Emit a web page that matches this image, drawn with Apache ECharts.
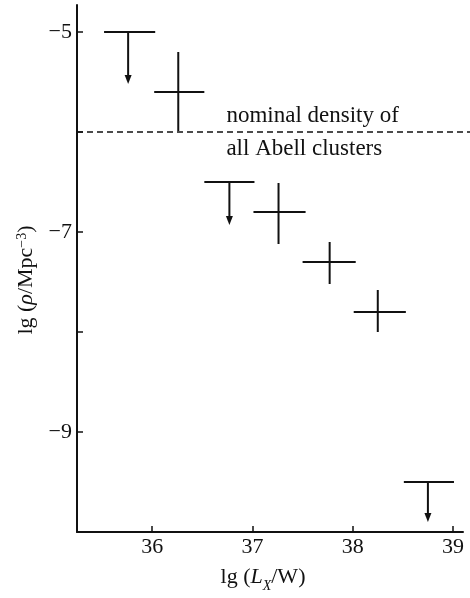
<!DOCTYPE html>
<html><head><meta charset="utf-8">
<script src="https://cdn.jsdelivr.net/npm/echarts@6/dist/echarts.min.js"></script>
<style>html,body{margin:0;padding:0;background:#fff}#c{width:470px;height:598px}</style>
</head><body><div id="c"></div>
<script>
// Upper limits (horizontal bar + downward arrow)
const limXLo = [35.52, 36.52, 38.51];
const limXHi = [36.03, 37.02, 39.01];
const limX   = [35.76, 36.77, 38.75];
const limY   = [-5.0, -6.5, -9.5];
const limTip = [-5.52, -6.93, -9.9];
// Measurements (cross: x range + y error bar)
const msXLo = [36.02, 37.01, 37.50, 38.01];
const msXHi = [36.52, 37.53, 38.03, 38.53];
const msX   = [36.26, 37.26, 37.77, 38.25];
const msY   = [-5.6, -6.8, -7.3, -7.8];
const msYLo = [-5.99, -7.12, -7.52, -8.0];
const msYHi = [-5.2, -6.51, -7.1, -7.58];
// Reference line
const nominalDensity = -6;
const nominalText = ['nominal density of', 'all Abell clusters'];
// Axes
const xMin = 35.25, xMax = 39.1;
const yMin = -10, yMax = -4.73;
const xTicks = [36, 37, 38, 39];
const yTicks = [-9, -8, -7, -6, -5];
const yLabels = [-9, -7, -5];

const FONT = "'Liberation Serif', 'DejaVu Serif', serif";
const limData = limY.map((y, i) => [limXLo[i], limXHi[i], limX[i], y, limTip[i]]);
const msData = msY.map((y, i) => [msXLo[i], msXHi[i], msX[i], y, msYLo[i], msYHi[i]]);

const chart = echarts.init(document.getElementById('c'));
const lineStyle = {stroke: '#111', lineWidth: 2};

chart.setOption({
  animation: false,
  backgroundColor: '#fff',
  grid: {left: 77, right: 7, top: 5, bottom: 60},
  xAxis: {
    type: 'value', min: xMin, max: xMax,
    name: '{n|lg (}{it|L}{sub|X}{n|/W)}',
    nameLocation: 'middle', nameGap: 34,
    nameTextStyle: {
      padding: [0, 14, 0, 0],
      rich: {
        n: {fontFamily: FONT, fontSize: 22, color: '#111', verticalAlign: 'bottom'},
        it: {fontFamily: FONT, fontSize: 22, color: '#111', fontStyle: 'italic', verticalAlign: 'bottom'},
        sub: {fontFamily: FONT, fontSize: 14, color: '#111', fontStyle: 'italic', verticalAlign: 'bottom', padding: [0, 0, -5, 0]}
      }
    },
    axisLine: {lineStyle: {color: '#111', width: 2}},
    axisTick: {inside: true, length: 6, lineStyle: {color: '#111', width: 1.5}, customValues: xTicks},
    axisLabel: {customValues: xTicks, fontFamily: FONT, fontSize: 22, color: '#111', margin: 4},
    splitLine: {show: false}
  },
  yAxis: {
    type: 'value', min: yMin, max: yMax,
    name: '{n|lg (}{it|ρ}{n|/Mpc}{sup|−3}{n|)}',
    nameLocation: 'middle', nameGap: 34, nameRotate: 90,
    nameTextStyle: {
      padding: [0, 23, 0, 0],
      rich: {
        n: {fontFamily: FONT, fontSize: 22, color: '#111', verticalAlign: 'bottom'},
        it: {fontFamily: FONT, fontSize: 22, color: '#111', fontStyle: 'italic', verticalAlign: 'bottom'},
        sup: {fontFamily: FONT, fontSize: 14, color: '#111', verticalAlign: 'top'}
      }
    },
    axisLine: {lineStyle: {color: '#111', width: 2}},
    axisTick: {inside: true, length: 6, lineStyle: {color: '#111', width: 1.5}, customValues: yTicks},
    axisLabel: {
      customValues: yLabels, fontFamily: FONT, fontSize: 22, color: '#111', margin: 5,
      formatter: v => (v < 0 ? '\u2212' + Math.abs(v) : String(v))
    },
    splitLine: {show: false}
  },
  series: [
    {
      type: 'custom', clip: false, silent: true,
      data: [[xMin, nominalDensity]],
      renderItem: (params, api) => {
        const a = api.coord([api.value(0), api.value(1)]);
        const w = api.getWidth();
        const tx = api.coord([36.74, api.value(1)])[0];
        return {type: 'group', children: [
          {type: 'line', shape: {x1: a[0], y1: a[1], x2: w, y2: a[1]},
           style: {stroke: '#111', lineWidth: 1.6, lineDash: [6, 4]}},
          {type: 'text', x: tx, y: a[1] - 16, style: {text: nominalText[0], font: '23px ' + FONT, fill: '#111', textAlign: 'left', textVerticalAlign: 'middle'}},
          {type: 'text', x: tx, y: a[1] + 17, style: {text: nominalText[1], font: '23px ' + FONT, fill: '#111', textAlign: 'left', textVerticalAlign: 'middle'}}
        ]};
      }
    },
    {
      type: 'custom', clip: false, silent: true,
      data: limData,
      renderItem: (params, api) => {
        const lo = api.coord([api.value(0), api.value(3)]);
        const hi = api.coord([api.value(1), api.value(3)]);
        const top = api.coord([api.value(2), api.value(3)]);
        const tip = api.coord([api.value(2), api.value(4)]);
        const ah = 9, aw = 3.5;
        return {type: 'group', children: [
          {type: 'line', shape: {x1: lo[0], y1: lo[1], x2: hi[0], y2: hi[1]}, style: lineStyle},
          {type: 'line', shape: {x1: top[0], y1: top[1], x2: tip[0], y2: tip[1] - ah + 1}, style: lineStyle},
          {type: 'polygon', shape: {points: [[tip[0] - aw, tip[1] - ah], [tip[0] + aw, tip[1] - ah], [tip[0], tip[1]]]}, style: {fill: '#111'}}
        ]};
      }
    },
    {
      type: 'custom', clip: false, silent: true,
      data: msData,
      renderItem: (params, api) => {
        const lo = api.coord([api.value(0), api.value(3)]);
        const hi = api.coord([api.value(1), api.value(3)]);
        const b = api.coord([api.value(2), api.value(4)]);
        const t = api.coord([api.value(2), api.value(5)]);
        return {type: 'group', children: [
          {type: 'line', shape: {x1: lo[0], y1: lo[1], x2: hi[0], y2: hi[1]}, style: lineStyle},
          {type: 'line', shape: {x1: b[0], y1: b[1], x2: t[0], y2: t[1]}, style: lineStyle}
        ]};
      }
    }
  ]
});
</script>
</body></html>
